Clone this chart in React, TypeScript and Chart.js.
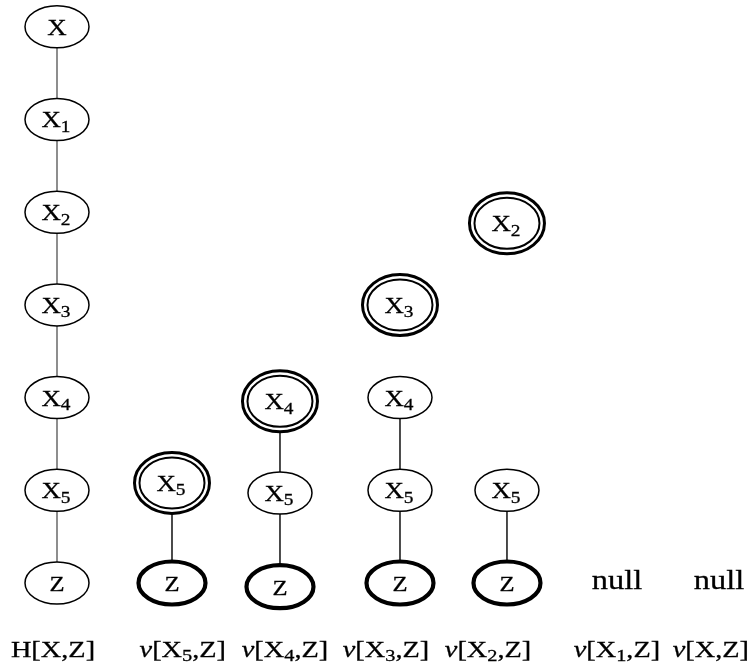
import React, { useEffect, useRef } from "react";
import { Chart, registerables } from "chart.js";

Chart.register(...registerables);

type Kind = "plain" | "double" | "bold";

// Horizontal position of each column (in column units) and of its caption
const columnPositions = [0, 1.033, 2.003, 3.081, 4.042, 5.03, 5.946];
const captionPositions = [-0.036, 1.13, 2.048, 2.955, 3.872, 5.03, 5.874];
const captionLevel = -0.8;
const nullLevel = -0.065;

// Captions: [prefix, variable base, variable subscript]
const captionPrefix = ["H", "v", "v", "v", "v", "v", "v"];
const captionVar = ["X", "X", "X", "X", "X", "X", "X"];
const captionSub = ["", "5", "4", "3", "2", "1", ""];

// Column 0: H[X,Z]
const hNames = ["X", "X1", "X2", "X3", "X4", "X5", "Z"];
const hLevels = [6, 5, 4, 3, 2, 1, 0];
const hKinds: Kind[] = ["plain", "plain", "plain", "plain", "plain", "plain", "plain"];
const hLinks = [true, true, true, true, true, true];

// Column 1: v[X5,Z]
const v5Names = ["X5", "Z"];
const v5Levels = [1.08, 0];
const v5Kinds: Kind[] = ["double", "bold"];
const v5Links = [true];

// Column 2: v[X4,Z]
const v4Names = ["X4", "X5", "Z"];
const v4Levels = [1.96, 0.97, -0.04];
const v4Kinds: Kind[] = ["double", "plain", "bold"];
const v4Links = [true, true];

// Column 3: v[X3,Z]
const v3Names = ["X3", "X4", "X5", "Z"];
const v3Levels = [3.0, 2.0, 1.0, 0];
const v3Kinds: Kind[] = ["double", "plain", "plain", "bold"];
const v3Links = [false, true, true];

// Column 4: v[X2,Z]
const v2Names = ["X2", "X5", "Z"];
const v2Levels = [3.88, 1.0, 0];
const v2Kinds: Kind[] = ["double", "plain", "bold"];
const v2Links = [false, true];

// Columns 5, 6: v[X1,Z], v[X,Z] are null
const nullColumns = [5, 6];
const nullText = "null";

const columns = [
  { names: hNames, levels: hLevels, kinds: hKinds, links: hLinks },
  { names: v5Names, levels: v5Levels, kinds: v5Kinds, links: v5Links },
  { names: v4Names, levels: v4Levels, kinds: v4Kinds, links: v4Links },
  { names: v3Names, levels: v3Levels, kinds: v3Kinds, links: v3Links },
  { names: v2Names, levels: v2Levels, kinds: v2Kinds, links: v2Links },
];

const SERIF = '"Liberation Serif", "DejaVu Serif", serif';

type Seg = { t: string; it?: boolean; sub?: boolean };

function drawRich(ctx: CanvasRenderingContext2D, segs: Seg[], cx: number, baseY: number, size: number, sx: number, subScale = 0.7, subDrop = 0.2) {
  const fontOf = (s: Seg) => `${s.it ? "italic " : ""}${s.sub ? size * subScale : size}px ${SERIF}`;
  let total = 0;
  const widths: number[] = [];
  for (const s of segs) {
    ctx.font = fontOf(s);
    const w = ctx.measureText(s.t).width;
    widths.push(w);
    total += w;
  }
  ctx.save();
  ctx.translate(cx, baseY);
  ctx.scale(sx, 1);
  ctx.fillStyle = "#000";
  ctx.strokeStyle = "#000";
  ctx.lineWidth = 0.3;
  ctx.textBaseline = "alphabetic";
  ctx.textAlign = "left";
  let x = -total / 2;
  segs.forEach((s, i) => {
    ctx.font = fontOf(s);
    const y = s.sub ? size * subDrop : 0;
    ctx.fillText(s.t, x, y);
    ctx.strokeText(s.t, x, y);
    x += widths[i];
  });
  ctx.restore();
}

function ellipse(ctx: CanvasRenderingContext2D, cx: number, cy: number, rx: number, ry: number) {
  ctx.beginPath();
  ctx.ellipse(cx, cy, rx, ry, 0, 0, Math.PI * 2);
}

const nodePlugin = {
  id: "latticeNodes",
  afterDatasetsDraw(chart: any) {
    const ctx: CanvasRenderingContext2D = chart.ctx;
    const xs = chart.scales.x;
    const ys = chart.scales.y;
    ctx.save();
    columns.forEach((col, ci) => {
      const cx = xs.getPixelForValue(columnPositions[ci]);
      col.names.forEach((name, ni) => {
        const cy = ys.getPixelForValue(col.levels[ni]);
        const kind = col.kinds[ni];
        ctx.fillStyle = "#fff";
        ctx.strokeStyle = "#000";
        if (kind === "double") {
          ellipse(ctx, cx, cy, 37.5, 30.5);
          ctx.fill();
          ctx.lineWidth = 3;
          ctx.stroke();
          ellipse(ctx, cx, cy, 32.5, 25.5);
          ctx.lineWidth = 2;
          ctx.stroke();
        } else if (kind === "bold") {
          ellipse(ctx, cx, cy, 33.5, 21.5);
          ctx.fill();
          ctx.lineWidth = 4.2;
          ctx.stroke();
        } else {
          ellipse(ctx, cx, cy, 32, 21);
          ctx.fill();
          ctx.lineWidth = 1.5;
          ctx.stroke();
        }
        const base = name.charAt(0);
        const sub = name.slice(1);
        const segs: Seg[] = [{ t: base }];
        if (sub) segs.push({ t: sub, sub: true });
        drawRich(ctx, segs, cx + (sub ? -1 : 0), cy + 8, base === "Z" ? 22 : 24, 1.12, 0.72, 0.18);
      });
    });
    nullColumns.forEach((ci) => {
      const cx = xs.getPixelForValue(columnPositions[ci]);
      drawRich(ctx, [{ t: nullText }], cx, ys.getPixelForValue(nullLevel), 27, 1.2);
    });
    captionPrefix.forEach((p, i) => {
      const cx = xs.getPixelForValue(captionPositions[i]);
      const segs: Seg[] = [{ t: p, it: p === "v" }, { t: "[" + captionVar[i] }];
      if (captionSub[i]) segs.push({ t: captionSub[i], sub: true });
      segs.push({ t: ",Z]" });
      drawRich(ctx, segs, cx, ys.getPixelForValue(captionLevel), 24, 1.18, 0.72, 0.16);
    });
    ctx.restore();
  },
};

export default function App() {
  const ref = useRef<HTMLCanvasElement | null>(null);
  useEffect(() => {
    if (!ref.current) return;
    const datasets: any[] = [];
    columns.forEach((col, ci) => {
      let chain: { x: number; y: number }[] = [];
      const flush = () => {
        if (chain.length > 1) {
          datasets.push({
            data: chain,
            showLine: true,
            borderColor: ci === 0 ? "#444" : "#111",
            borderWidth: ci === 0 ? 1.2 : 1.5,
            pointRadius: 0,
            fill: false,
          });
        }
        chain = [];
      };
      col.names.forEach((_, ni) => {
        chain.push({ x: columnPositions[ci], y: col.levels[ni] });
        if (ni < col.links.length && !col.links[ni]) flush();
      });
      flush();
    });
    const chart = new Chart(ref.current, {
      type: "scatter",
      data: { datasets },
      options: {
        animation: false,
        responsive: false,
        devicePixelRatio: 1,
        layout: { padding: 0 },
        plugins: { legend: { display: false }, tooltip: { enabled: false } },
        scales: {
          x: { type: "linear", min: -0.512, max: 6.261, display: false },
          y: { type: "linear", min: -0.96, max: 6.289, display: false },
        },
      },
      plugins: [nodePlugin],
    } as any);
    return () => chart.destroy();
  }, []);
  return (
    <div style={{ position: "absolute", left: 0, top: 0, width: 754, height: 672, background: "#fff" }}>
      <canvas ref={ref} width={754} height={672} style={{ display: "block" }} />
    </div>
  );
}
